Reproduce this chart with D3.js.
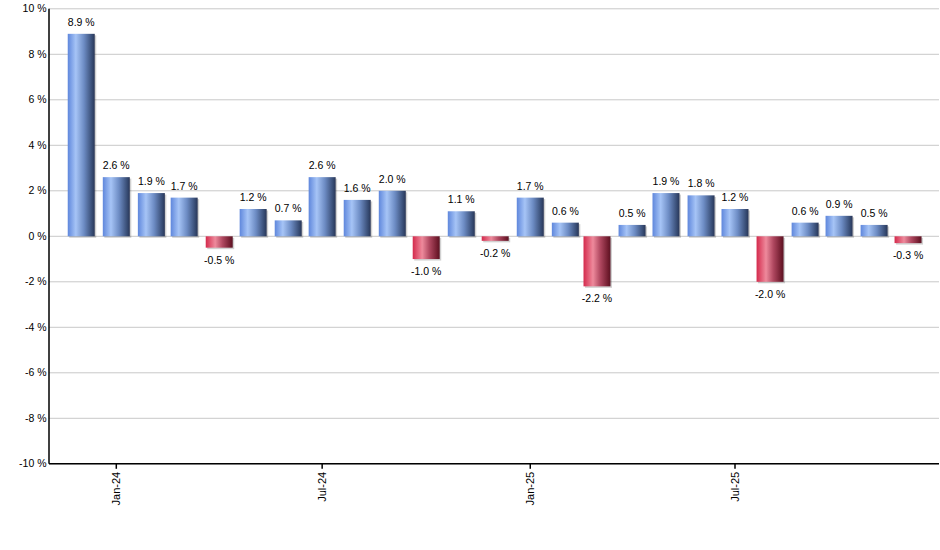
<!DOCTYPE html>
<html>
<head>
<meta charset="utf-8">
<script src="https://cdn.jsdelivr.net/npm/d3@7"></script>
<style>
  html, body { margin: 0; padding: 0; background: #fff; }
  svg { display: block; font-family: Arial, "Liberation Sans", sans-serif; }
</style>
</head>
<body>
<svg id="chart" width="940" height="550"></svg>
<script>
// ---- data ----
const months = ["2023-12","2024-01","2024-02","2024-03","2024-04","2024-05","2024-06","2024-07","2024-08","2024-09","2024-10","2024-11","2024-12","2025-01","2025-02","2025-03","2025-04","2025-05","2025-06","2025-07","2025-08","2025-09","2025-10","2025-11","2025-12"];
const values = [8.9, 2.6, 1.9, 1.7, -0.5, 1.2, 0.7, 2.6, 1.6, 2.0, -1.0, 1.1, -0.2, 1.7, 0.6, -2.2, 0.5, 1.9, 1.8, 1.2, -2.0, 0.6, 0.9, 0.5, -0.3];
const yTicks = [-10, -8, -6, -4, -2, 0, 2, 4, 6, 8, 10];
const xTickDates = ["2024-01","2024-07","2025-01","2025-07"];

(function () {
// ---- layout ----
const svg = d3.select("#chart");
const mLeft = 49, mRight = 939, mTop = 8.8, mBottom = 463.8;
const parse = d3.timeParse("%Y-%m");
const fmtTick = d3.timeFormat("%b-%y");

const x = d3.scaleTime()
  .domain([new Date(2024, 0, 1), new Date(2025, 6, 1)])
  .range([116.3, 735]);
const y = d3.scaleLinear().domain([-10, 10]).range([mBottom, mTop]);

const data = months.map((m, i) => ({ date: parse(m), value: values[i] }));

// ---- gradients ----
const defs = svg.append("defs");
function grad(id, stops) {
  const g = defs.append("linearGradient").attr("id", id)
    .attr("x1", "0%").attr("x2", "100%").attr("y1", "0%").attr("y2", "0%");
  stops.forEach(s => g.append("stop").attr("offset", s[0]).attr("stop-color", s[1]));
}
grad("gBlue", [["0%", "#5f87dc"], ["30%", "#a6c4f6"], ["60%", "#6d8cc4"], ["92%", "#34486f"], ["100%", "#2a3656"]]);
grad("gRed", [["0%", "#d42a4c"], ["35%", "#ee8a9c"], ["62%", "#b04860"], ["92%", "#6e1a2c"], ["100%", "#5a1424"]]);

// ---- gridlines ----
svg.append("g").selectAll("line").data(yTicks).join("line")
  .attr("x1", mLeft).attr("x2", mRight)
  .attr("y1", d => y(d)).attr("y2", d => y(d))
  .attr("stroke", "#c8c8c8").attr("stroke-width", 1);

// ---- y labels ----
svg.append("g").selectAll("text").data(yTicks).join("text")
  .attr("x", 46.5).attr("y", d => y(d)).attr("dy", "0.35em")
  .attr("text-anchor", "end").attr("font-size", 10.5).attr("fill", "#000")
  .text(d => d + " %");

// ---- bars ----
const bw = 27;
const bars = svg.append("g");
bars.selectAll("rect.sh").data(data).join("rect").attr("class", "sh")
  .attr("x", d => x(d.date) - bw / 2 + 1.5)
  .attr("y", d => Math.min(y(d.value), y(0)) + 1.5)
  .attr("width", bw)
  .attr("height", d => Math.abs(y(d.value) - y(0)))
  .attr("fill", "#000").attr("opacity", 0.18);
bars.selectAll("rect.b").data(data).join("rect").attr("class", "b")
  .attr("x", d => x(d.date) - bw / 2)
  .attr("y", d => Math.min(y(d.value), y(0)))
  .attr("width", bw)
  .attr("height", d => Math.abs(y(d.value) - y(0)))
  .attr("fill", d => d.value >= 0 ? "url(#gBlue)" : "url(#gRed)");

// ---- value labels ----
svg.append("g").selectAll("text").data(data).join("text")
  .attr("x", d => x(d.date))
  .attr("y", d => d.value >= 0 ? y(d.value) - 8 : y(d.value) + 16)
  .attr("text-anchor", "middle").attr("font-size", 10.5).attr("fill", "#000")
  .text(d => d.value.toFixed(1) + " %");

// ---- axes lines ----
svg.append("line").attr("x1", mLeft).attr("x2", mLeft).attr("y1", mTop).attr("y2", mBottom)
  .attr("stroke", "#000").attr("stroke-width", 1.5);
svg.append("line").attr("x1", mLeft).attr("x2", mRight).attr("y1", mBottom).attr("y2", mBottom)
  .attr("stroke", "#000").attr("stroke-width", 1.5);

// ---- x ticks ----
const xt = svg.append("g").selectAll("g").data(xTickDates.map(parse)).join("g")
  .attr("transform", d => `translate(${x(d)},0)`);
xt.append("line").attr("y1", mBottom).attr("y2", mBottom + 5).attr("stroke", "#000").attr("stroke-width", 1.5);
xt.append("text")
  .attr("transform", `translate(0,${mBottom + 8}) rotate(-90)`)
  .attr("text-anchor", "end").attr("dy", "0.35em")
  .attr("font-size", 11).attr("fill", "#000")
  .text(d => fmtTick(d));
})();
</script>
</body>
</html>
